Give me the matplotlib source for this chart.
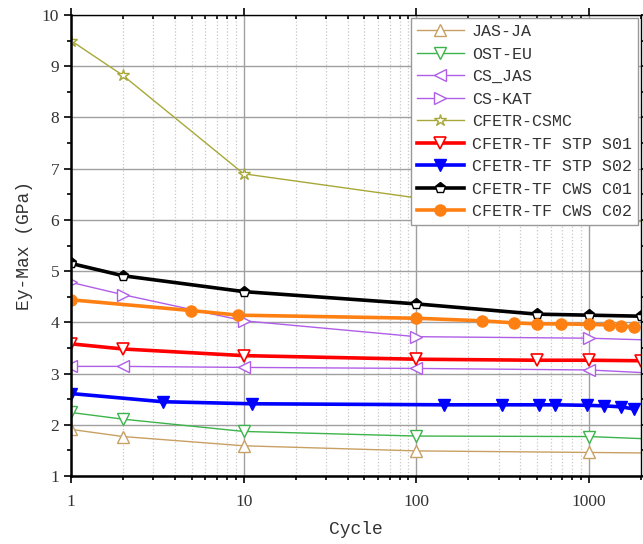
import matplotlib

matplotlib.use("Agg")

import matplotlib.pyplot as plt
from matplotlib.ticker import FixedLocator, LogLocator, NullFormatter

# ---------------------------------------------------------------------------
# Data
# ---------------------------------------------------------------------------

jas_x = [1, 2, 10, 100, 1000, 2000]
jas_y = [1.91, 1.77, 1.59, 1.49, 1.46, 1.45]

ost_x = [1, 2, 10, 100, 1000, 2000]
ost_y = [2.24, 2.11, 1.87, 1.78, 1.77, 1.73]

csjas_x = [1, 2, 10, 100, 1000, 2000]
csjas_y = [3.14, 3.14, 3.12, 3.10, 3.07, 3.02]

cskat_x = [1, 2, 10, 100, 1000, 2000]
cskat_y = [4.78, 4.54, 4.03, 3.72, 3.69, 3.66]

csmc_x = [1, 2, 10, 100, 1000, 2000]
csmc_y = [9.5, 8.82, 6.9, 6.43, 6.03, 5.97]

s01_x = [1, 2, 10, 100, 500, 1000, 2000]
s01_y = [3.58, 3.48, 3.35, 3.28, 3.26, 3.26, 3.25]

s02_x = [1, 3.4, 11.2, 144, 313, 514, 636, 967, 1219, 1534, 1814]
s02_y = [2.61, 2.45, 2.41, 2.39, 2.39, 2.39, 2.39, 2.38, 2.37, 2.35, 2.31]

c01_x = [1, 2, 10, 100, 500, 1000, 2000]
c01_y = [5.15, 4.91, 4.60, 4.36, 4.16, 4.14, 4.12]

c02_x = [1, 4.96, 9.3, 100, 239, 366, 499, 685, 1000, 1301, 1534, 1814]
c02_y = [4.44, 4.23, 4.14, 4.08, 4.03, 3.99, 3.97, 3.97, 3.96, 3.95, 3.93, 3.91]

x_ticks = [1, 10, 100, 1000]
x_ticklabels = ["1", "10", "100", "1000"]
y_ticks = [1, 2, 3, 4, 5, 6, 7, 8, 9, 10]

MONO = "Liberation Mono"
SERIF = "Liberation Serif"

# ---------------------------------------------------------------------------
# Figure
# ---------------------------------------------------------------------------

fig = plt.figure(figsize=(6.43, 5.44), dpi=100)
ax = fig.add_axes([0.1104, 0.125, 0.8865, 0.8474])

thin = dict(linewidth=1.0, markersize=9, markerfacecolor="white",
            markeredgewidth=1.0, markevery=slice(0, -1))

ax.plot(jas_x, jas_y, color="#c8a064", marker="^", label="JAS-JA", **thin)
ax.plot(ost_x, ost_y, color="#3cb44b", marker="v", label="OST-EU", **thin)
ax.plot(csjas_x, csjas_y, color="#b05ee8", marker="<", label="CS_JAS", **thin)
ax.plot(cskat_x, cskat_y, color="#b05ee8", marker=">", label="CS-KAT", **thin)
ax.plot(csmc_x, csmc_y, color="#a8a838", marker="*", label="CFETR-CSMC", **thin)

ax.plot(s01_x, s01_y, color="#ff0000", linewidth=2.6, marker="v",
        markersize=8, markerfacecolor="white", markeredgewidth=1.2,
        label="CFETR-TF STP S01")
ax.plot(s02_x, s02_y, color="#0000ff", linewidth=2.6, marker="v",
        markersize=8, label="CFETR-TF STP S02")
ax.plot(c01_x, c01_y, color="black", linewidth=2.6, marker="p",
        markersize=8, fillstyle="top", markerfacecoloralt="white",
        markeredgewidth=1.0, label="CFETR-TF CWS C01")
ax.plot(c02_x, c02_y, color="#ff8012", linewidth=2.6, marker="o",
        markersize=8, label="CFETR-TF CWS C02")

# axes / scales
ax.set_xscale("log")
ax.set_xlim(1, 2000)
ax.set_ylim(1, 10)
ax.xaxis.set_major_locator(FixedLocator(x_ticks))
ax.set_xticklabels(x_ticklabels)
ax.xaxis.set_minor_locator(LogLocator(base=10, subs=range(2, 10)))
ax.xaxis.set_minor_formatter(NullFormatter())
ax.set_yticks(y_ticks)
ax.yaxis.set_minor_locator(FixedLocator([v + 0.5 for v in y_ticks[:-1]]))

ax.grid(which="major", color="#a0a0a0", linewidth=1.0)
ax.grid(which="minor", axis="x", color="#c8c8c8", linestyle=":", linewidth=0.9)
ax.set_axisbelow(True)

for side in ("left", "bottom"):
    ax.spines[side].set_linewidth(1.8)
for side in ("top", "right"):
    ax.spines[side].set_linewidth(1.0)

ax.tick_params(which="both", direction="out", top=True, right=True,
               width=1.2)
ax.tick_params(which="major", length=5)
ax.tick_params(which="minor", length=3)
ax.tick_params(which="both", axis="x", top=True)
for t in ax.xaxis.get_ticklines(minor=True)[1::2] + ax.xaxis.get_ticklines()[1::2]:
    t.set_marker(3)
for lbl in ax.get_xticklabels() + ax.get_yticklabels():
    lbl.set_fontfamily(SERIF)
    lbl.set_fontsize(12.5)
    lbl.set_color("#333333")
ax.tick_params(axis="x", pad=8)

ax.set_xlabel("Cycle", fontfamily=MONO, fontsize=13, color="#333333",
              labelpad=8)
ax.set_ylabel("Ey-Max (GPa)", fontfamily=MONO, fontsize=13, color="#333333",
              labelpad=6)

leg = ax.legend(loc="upper right", prop={"family": MONO, "size": 12},
                frameon=True, fancybox=False, framealpha=1.0,
                edgecolor="#999999", handlelength=2.8, handletextpad=0.5,
                labelspacing=0.45, borderpad=0.35, borderaxespad=0.2)
leg.get_frame().set_linewidth(1.0)
for txt in leg.get_texts():
    txt.set_color("#333333")

fig.savefig("out.png", dpi=100)
